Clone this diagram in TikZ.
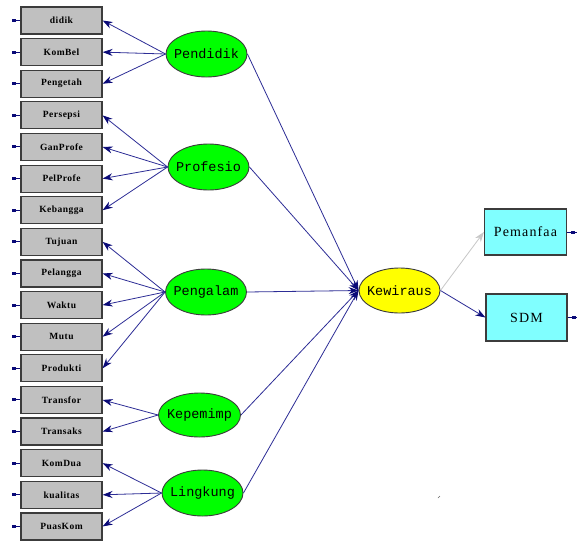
\documentclass[tikz,border=0pt]{standalone}
\usepackage{fontspec}
\usetikzlibrary{shapes.geometric,arrows.meta}
\newfontfamily\latfont{Liberation Mono}
\newfontfamily\obsfont[LetterSpace=5]{Liberation Serif}
\newfontfamily\bigobsfont[LetterSpace=8]{Liberation Serif}
\definecolor{lnblue}{RGB}{45,45,150}
\definecolor{arrblue}{RGB}{10,10,120}
\definecolor{boxgray}{RGB}{192,192,192}
\definecolor{latgreen}{RGB}{0,255,0}
\definecolor{latyellow}{RGB}{255,255,0}
\definecolor{obscyan}{RGB}{128,255,255}
\definecolor{edgegray}{RGB}{60,60,60}
\tikzset{
  obsbox/.style={draw=edgegray,line width=1.2pt,fill=boxgray,minimum width=81pt,minimum height=27pt,inner sep=0pt,font=\obsfont\bfseries\fontsize{9.5}{10}\selectfont},
  latent/.style={ellipse,draw=edgegray,line width=0.9pt,fill=latgreen,minimum width=81pt,minimum height=46pt,inner sep=0pt,font=\latfont\fontsize{13.5}{14}\selectfont},
  endobox/.style={draw=edgegray,line width=1.2pt,fill=obscyan,minimum width=82pt,minimum height=46pt,inner sep=0pt,font=\bigobsfont\fontsize{14}{15}\selectfont},
  path/.style={draw=lnblue,line width=0.8pt,-{Stealth[length=10pt,width=7pt,color=arrblue]}},
  graypath/.style={draw=black!22,line width=0.8pt,-{Stealth[length=10pt,width=7pt,color=black!22]}},
  stub/.style={draw=arrblue,line width=1pt},
}
\begin{document}
\begin{tikzpicture}[x=1pt,y=-1pt]
\useasboundingbox (0,0) rectangle (577,541);
\fill[white] (0,0) rectangle (577,541);
% observed indicators
\foreach \nm/\lab [count=\i from 0] in {didik/didik,KomBel/KomBel,Pengetah/Pengetah,Persepsi/Persepsi,GanProfe/GanProfe,PelProfe/PelProfe,Kebangga/Kebangga,Tujuan/Tujuan,Pelangga/Pelangga,Waktu/Waktu,Mutu/Mutu,Produkti/Produkti,Transfor/Transfor,Transaks/Transaks,KomDua/KomDua,kualitas/kualitas,PuasKom/PuasKom}{
  \node[obsbox] (\nm) at (61.5,{20.5+31.62*\i}) {\lab};
  \draw[stub] (\nm.west) -- ++(-8,0);
  \fill[arrblue] ([xshift=-8pt,yshift=1.5pt]\nm.west) rectangle ++(4,3);
}
% latent exogenous
\node[latent] (Pendidik) at (206.5,54) {\makebox[0pt]{Pendidik}};
\node[latent] (Profesio) at (208.5,167) {\makebox[0pt]{Profesio}};
\node[latent] (Pengalam) at (206,292) {\makebox[0pt]{Pengalam}};
\node[latent,minimum height=44pt,minimum width=82pt] (Kepemimp) at (199.5,415) {\makebox[0pt]{Kepemimp}};
\node[latent] (Lingkung) at (202.5,493) {\makebox[0pt]{Lingkung}};
% latent endogenous
\node[latent,fill=latyellow,minimum height=45pt] (Kewiraus) at (399.5,290.5) {\makebox[0pt]{Kewiraus}};
% endogenous indicators
\node[endobox] (Pemanfaa) at (525.5,232) {Pemanfaa};
\node[endobox,minimum width=81pt,minimum height=47pt] (SDM) at (526.5,317.5) {SDM};
\draw[stub] (Pemanfaa.east) -- ++(10,0);
\fill[arrblue] ([xshift=4pt,yshift=1.5pt]Pemanfaa.east) rectangle ++(4,3);
\draw[stub] (SDM.east) -- ++(10,0);
\fill[arrblue] ([xshift=4pt,yshift=1.5pt]SDM.east) rectangle ++(4,3);
% loadings
\foreach \t in {didik,KomBel,Pengetah} \draw[path] (Pendidik.west) -- (\t.east);
\foreach \t in {Persepsi,GanProfe,PelProfe,Kebangga} \draw[path] (Profesio.west) -- (\t.east);
\foreach \t in {Tujuan,Pelangga,Waktu,Mutu,Produkti} \draw[path] (Pengalam.west) -- (\t.east);
\foreach \t in {Transfor,Transaks} \draw[path] (Kepemimp.west) -- (\t.east);
\foreach \t in {KomDua,kualitas,PuasKom} \draw[path] (Lingkung.west) -- (\t.east);
% structural paths
\foreach \s in {Pendidik,Profesio,Pengalam,Kepemimp,Lingkung} \draw[path] (\s.east) -- (Kewiraus.west);
\draw[graypath] (Kewiraus.east) -- (Pemanfaa.west);
\draw[path] (Kewiraus.east) -- (SDM.west);
% small stray mark
\draw[black!60,line width=0.6pt] (438,498) -- (440,496);
\end{tikzpicture}
\end{document}
